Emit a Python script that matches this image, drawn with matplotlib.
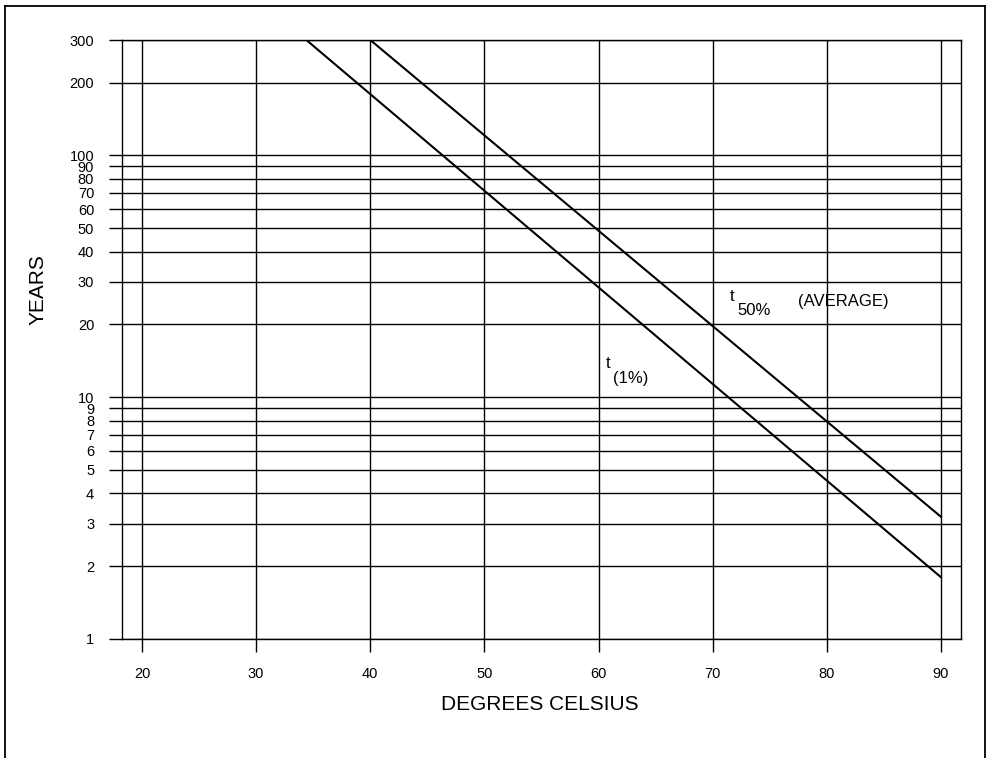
import matplotlib
matplotlib.use("Agg")
import matplotlib.pyplot as plt
from matplotlib.lines import Line2D
from matplotlib.ticker import FixedLocator, FixedFormatter, NullLocator

plt.rcParams['font.family'] = ['Liberation Sans', 'DejaVu Sans']

# Service life curves (temperature in degrees C vs. years)
t1_temp = [34.4, 90]
t1_years = [300, 1.8]
t50_temp = [40, 90]
t50_years = [300, 3.2]

x_ticks = [20, 30, 40, 50, 60, 70, 80, 90]
y_ticks = [1, 2, 3, 4, 5, 6, 7, 8, 9, 10, 20, 30, 40, 50, 60, 70, 80, 90, 100, 200, 300]
y_tick_labels = [str(v) for v in y_ticks]

W, H = 991, 758
fig = plt.figure(figsize=(W / 100, H / 100), dpi=100)
fig.patch.set_facecolor('white')

left, right, top, bottom = 122, 961, 40, 639
ax = fig.add_axes([left / W, 1 - bottom / H, (right - left) / W, (bottom - top) / H])

ax.set_yscale('log')
ax.set_xlim(18.25, 91.75)
ax.set_ylim(1, 300)

ax.xaxis.set_major_locator(FixedLocator(x_ticks))
ax.xaxis.set_minor_locator(NullLocator())
ax.yaxis.set_major_locator(FixedLocator(y_ticks))
ax.yaxis.set_major_formatter(FixedFormatter(y_tick_labels))
ax.yaxis.set_minor_locator(NullLocator())

ax.grid(True, which='major', color='black', linewidth=1.0)
ax.set_axisbelow(True)
for sp in ax.spines.values():
    sp.set_linewidth(1.0)
    sp.set_color('black')

ax.tick_params(axis='both', direction='out', length=9.5, width=1.0, color='black',
               labelsize=10.5, labelcolor='black')
ax.tick_params(axis='y', pad=10.5)
ax.tick_params(axis='x', pad=10.5)

ax.plot(t1_temp, t1_years, color='black', linewidth=1.5)
ax.plot(t50_temp, t50_years, color='black', linewidth=1.5)

ax.text(71.5, 26.1, 't', fontsize=12, ha='left', va='center')
ax.text(72.2, 22.8, '50%', fontsize=12, ha='left', va='center')
ax.text(77.5, 24.9, '(AVERAGE)', fontsize=12, ha='left', va='center')
ax.text(60.65, 13.8, 't', fontsize=12, ha='left', va='center')
ax.text(61.3, 11.94, '(1%)', fontsize=12, ha='left', va='center')

ax.set_xlabel('DEGREES CELSIUS', fontsize=15, va='center')
ax.xaxis.set_label_coords((540 - left) / (right - left), (bottom - 705) / (bottom - top))
ax.set_ylabel('YEARS', fontsize=15, va='center')
ax.yaxis.set_label_coords((38 - left) / (right - left), (bottom - 290) / (bottom - top))

# Open-bottomed page frame around the chart
fx0, fx1, fy = 4.5 / W, 984.5 / W, 1 - 5.5 / H
for xs, ys in [([fx0, fx0], [0, fy]), ([fx0, fx1], [fy, fy]), ([fx1, fx1], [fy, 0])]:
    fig.add_artist(Line2D(xs, ys, transform=fig.transFigure, color='black', linewidth=1.3))

fig.savefig('out.png', dpi=100)
